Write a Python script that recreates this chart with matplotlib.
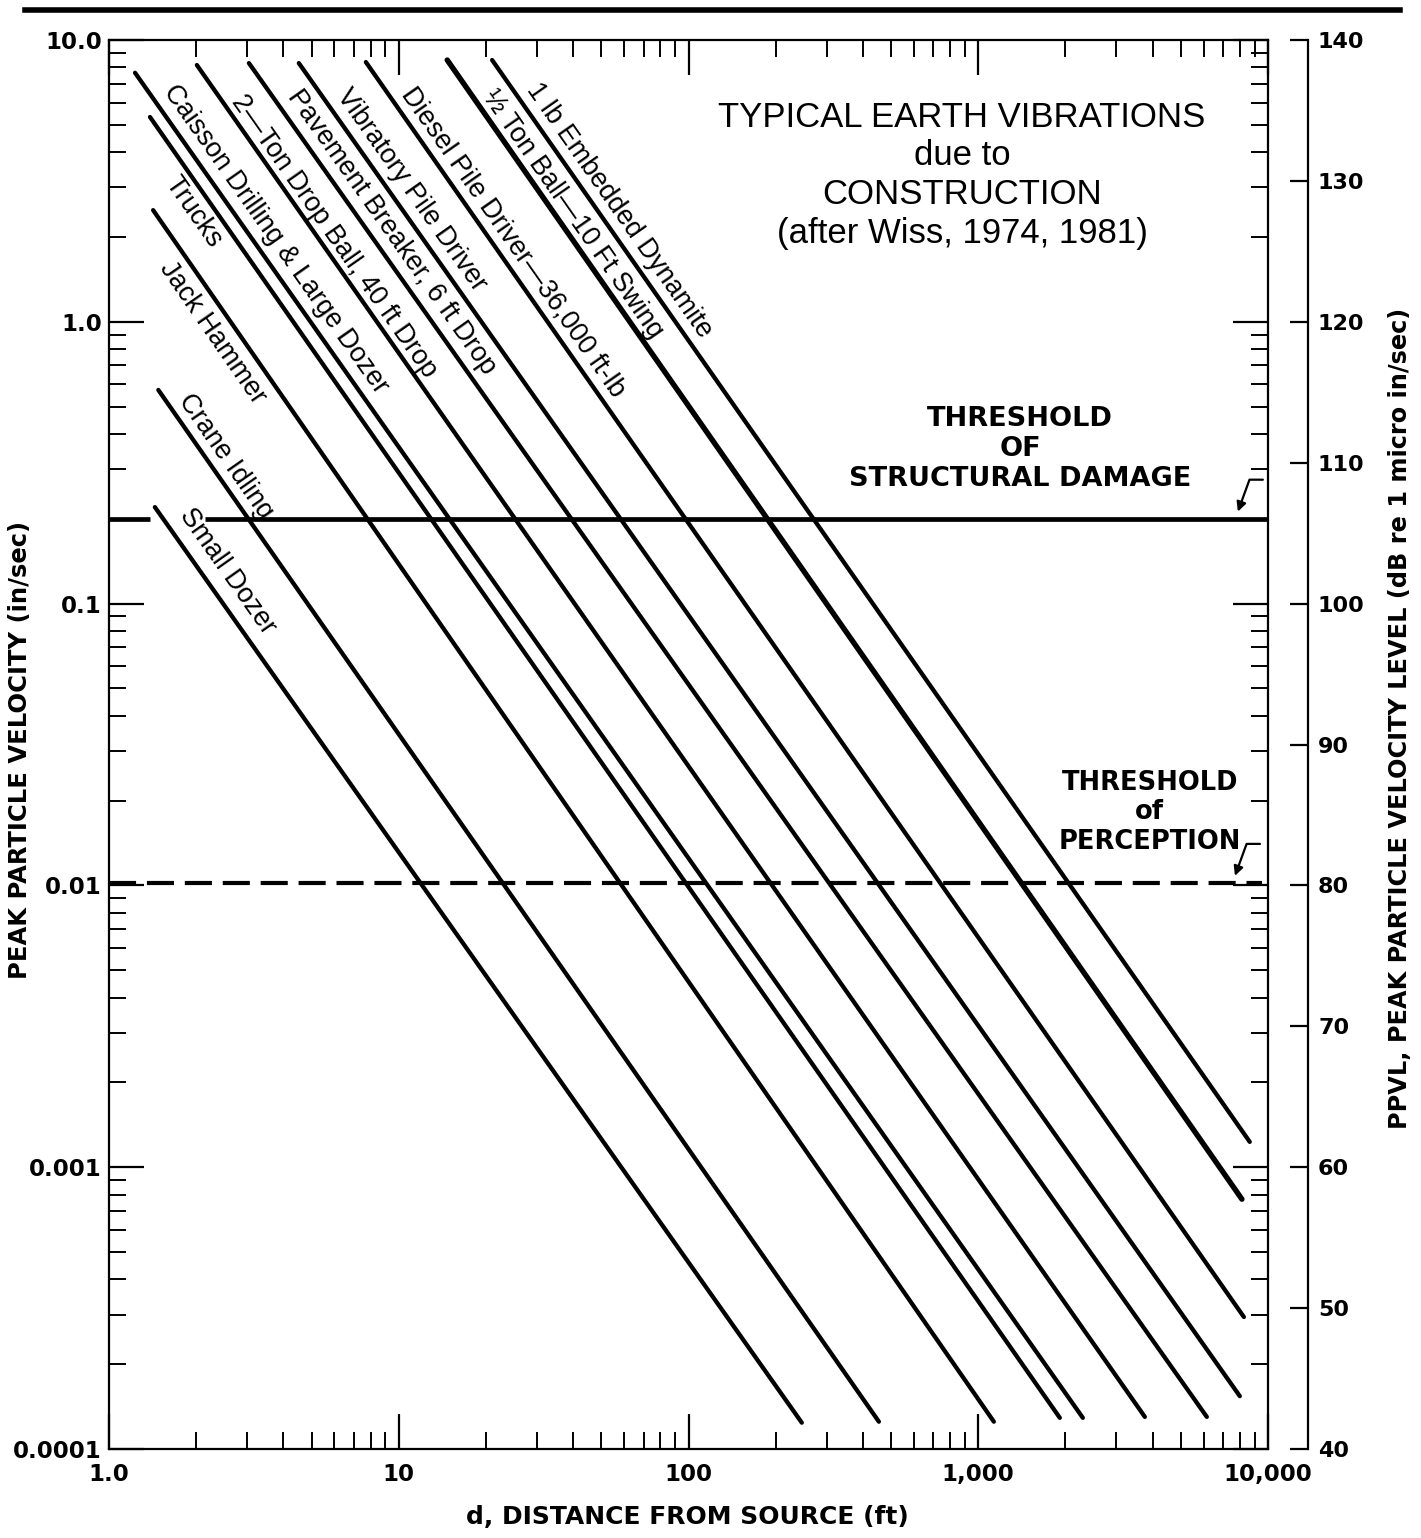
import numpy as np
import matplotlib
matplotlib.use('Agg')
import matplotlib.pyplot as plt
from matplotlib.ticker import FixedLocator, FixedFormatter, LogLocator, NullFormatter
from matplotlib.lines import Line2D

# --- data (distance in ft, peak particle velocity in in/sec) ---
sources = ['Small Dozer', 'Crane Idling', 'Jack Hammer', 'Trucks',
           'Caisson Drilling & Large Dozer', '2\u2014Ton Drop Ball, 40 ft Drop',
           'Pavement Breaker, 6 ft Drop', 'Vibratory Pile Driver',
           'Diesel Pile Driver\u201436,000 ft-lb', '\u00bd Ton Ball\u201410 Ft Swing',
           '1 lb Embedded Dynamite']
d_start = [1.44, 1.48, 1.42, 1.385, 1.23, 2.01, 3.04, 4.52, 7.70, 14.7, 21.0]
v_start = [0.220, 0.573, 2.49, 5.33, 7.65, 8.15, 8.28, 8.28, 8.35, 8.49, 8.49]
d_end = [246, 454, 1132, 1912, 2296, 3758, 6150, 7993, 8257, 8128, 8650]
v_end = [0.000124, 0.000125, 0.000125, 0.000129, 0.000129, 0.00013, 0.00013,
         0.000154, 0.000294, 0.00077, 0.00123]

damage_v = 0.2
damage_d = [[1.0, 1.385], [2.14, 10000]]
perception_v = 0.0102
perception_d = [1.0, 9500]

x_ticks = [1, 10, 100, 1000, 10000]
x_labels = ['1.0', '10', '100', '1,000', '10,000']
y_ticks = [0.0001, 0.001, 0.01, 0.1, 1.0, 10.0]
y_labels = ['0.0001', '0.001', '0.01', '0.1', '1.0', '10.0']
db_ticks = [40, 50, 60, 70, 80, 90, 100, 110, 120, 130, 140]

# label placement along each line: distance from line start, offset from line (px)
lab_along = [20, 20, 51, 62, 32, 50, 49, 48, 46, 50, 44]
lab_off = [22, 17, -21, -19, 19, 14, 19, 19, 17, 15, 18]

plt.rcParams['font.family'] = ['DejaVu Sans']
plt.rcParams['font.weight'] = 'bold'

W, H = 1421, 1538
fig = plt.figure(figsize=(W / 100, H / 100), dpi=100)
ax = fig.add_axes([109 / W, (H - 1449) / H, 1159 / W, 1409 / H])
ax.set_xscale('log')
ax.set_yscale('log')
ax.set_xlim(1, 10000)
ax.set_ylim(0.0001, 10)

# attenuation lines
for i in range(len(sources)):
    lw = 3.9 if i == 9 else 3.1
    ax.plot([d_start[i], d_end[i]], [v_start[i], v_end[i]], color='black',
            lw=lw, solid_capstyle='round')

# thresholds
for seg in damage_d:
    ax.plot(seg, [damage_v, damage_v], color='black', lw=3.4, solid_capstyle='butt')
ax.plot(perception_d, [perception_v, perception_v], color='black', lw=3.0,
        ls=(0, (6.5, 2.6)))

# ticks
ax.xaxis.set_major_locator(FixedLocator(x_ticks))
ax.xaxis.set_major_formatter(FixedFormatter(x_labels))
ax.xaxis.set_minor_locator(LogLocator(base=10, subs=np.arange(2, 10), numticks=50))
ax.xaxis.set_minor_formatter(NullFormatter())
ax.yaxis.set_major_locator(FixedLocator(y_ticks))
ax.yaxis.set_major_formatter(FixedFormatter(y_labels))
ax.yaxis.set_minor_locator(LogLocator(base=10, subs=np.arange(2, 10), numticks=50))
ax.yaxis.set_minor_formatter(NullFormatter())
for s in ax.spines.values():
    s.set_linewidth(1.6)

# PPVL axis (dB re 1 micro in/sec)
ax2 = ax.twinx()
ax2.set_ylim(20 * np.log10(np.array(ax.get_ylim()) / 1e-6))
ax2.set_yticks(db_ticks)
ax2.spines['right'].set_position(('outward', 29))
ax2.spines['right'].set_linewidth(1.6)
for s in ['left', 'top', 'bottom']:
    ax2.spines[s].set_visible(False)
ax2.tick_params(axis='y', direction='in', length=13, width=1.6, labelsize=16, pad=7)

ax.tick_params(which='major', direction='in', length=25, width=1.6, top=True,
               right=True, labelsize=16.5)
ax.tick_params(which='minor', direction='in', length=12, width=1.4, top=True, right=True)
ax.tick_params(axis='x', which='major', pad=10)
ax.tick_params(axis='y', which='major', pad=5)

# line labels, rotated along each line
for i, name in enumerate(sources):
    p0 = ax.transData.transform((d_start[i], v_start[i]))
    p1 = ax.transData.transform((d_end[i], v_end[i]))
    u = (p1 - p0) / np.hypot(*(p1 - p0))
    n = np.array([-u[1], u[0]])
    ang = np.degrees(np.arctan2(u[1], u[0]))
    off = (lab_along[i] * u + lab_off[i] * n) * 0.72
    ax.annotate(name, (d_start[i], v_start[i]), xytext=off, textcoords='offset points',
                rotation=ang, rotation_mode='anchor', ha='left', va='center',
                fontsize=19.5, fontweight='normal', family=['Liberation Sans', 'DejaVu Sans'])

ax.text(0.736, 0.904, 'TYPICAL EARTH VIBRATIONS\ndue to\nCONSTRUCTION\n(after Wiss, 1974, 1981)',
        transform=ax.transAxes, ha='center', va='center', fontsize=25, fontweight='normal',
        family=['Liberation Sans', 'DejaVu Sans'], linespacing=1.22)

ax.text(0.786, 0.7097, 'THRESHOLD\nOF\nSTRUCTURAL DAMAGE', transform=ax.transAxes,
        ha='center', va='center', fontsize=19.5, linespacing=1.2)
ax.text(0.898, 0.452, 'THRESHOLD\nof\nPERCEPTION', transform=ax.transAxes,
        ha='center', va='center', fontsize=18.5, linespacing=1.18)

arrow = dict(arrowstyle='-|>', color='black', lw=1.6, mutation_scale=14,
             connectionstyle='angle,angleA=180,angleB=70,rad=0', shrinkA=0, shrinkB=0)
ax.annotate('', xy=(0.974, damage_v * 1.06), xycoords=('axes fraction', 'data'),
            xytext=(18, 23), textcoords='offset points', arrowprops=arrow)
ax.annotate('', xy=(0.9715, perception_v * 1.06), xycoords=('axes fraction', 'data'),
            xytext=(18, 23), textcoords='offset points', arrowprops=arrow)

# axis titles
fig.text(20 / W, 1 - 750 / H, 'PEAK PARTICLE VELOCITY (in/sec)', rotation=90,
         ha='center', va='center', fontsize=17.5)
fig.text(687 / W, 1 - 1517 / H, 'd, DISTANCE FROM SOURCE (ft)',
         ha='center', va='center', fontsize=18)
fig.text(1400 / W, 1 - 718 / H, 'PPVL, PEAK PARTICLE VELOCITY LEVEL (dB re 1 micro in/sec)',
         rotation=90, ha='center', va='center', fontsize=17.3)

# rule across the top of the page
fig.add_artist(Line2D([25 / W, 1400 / W], [1 - 10 / H, 1 - 10 / H], color='black', lw=4))

fig.savefig('out.png', dpi=100)
